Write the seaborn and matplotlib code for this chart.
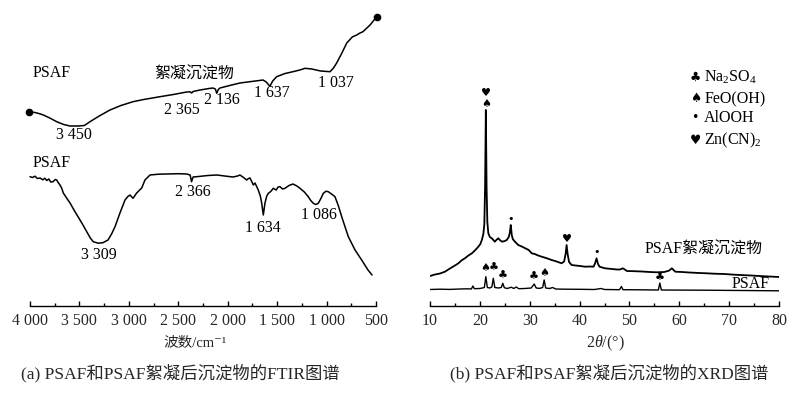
import numpy as np
import pandas as pd
import matplotlib
matplotlib.use('Agg')
import matplotlib.pyplot as plt
import seaborn as sns

# ---------------- FTIR: PSAF絮凝沉淀物 (upper curve) ----------------
ftir_floc_wn = [4010, 3950, 3900, 3865, 3800, 3730, 3660, 3595, 3514, 3450,
                3393, 3300, 3191, 3080, 2958, 2850, 2685, 2550, 2415, 2380,
                2365, 2350, 2280, 2190, 2149, 2125, 2111, 2095, 2078, 1980,
                1876, 1760, 1680, 1643, 1610, 1585, 1572, 1545, 1505, 1420,
                1340, 1270, 1218, 1150, 1060, 965, 930, 898, 850, 796,
                740, 695, 662, 632, 560, 493]
ftir_floc_t = [194.3, 193.5, 192.2, 191, 188, 184.3, 181.5, 180, 180, 180.5,
               184.3, 190, 196, 200.5, 204.3, 206.5, 209.3, 211.5, 214, 214.2,
               213, 214.5, 216, 217.5, 218, 217, 212.7, 216.5, 218, 220.5,
               223, 224.5, 225.5, 226, 224, 221, 220, 225, 229.3, 232.5,
               234.3, 236, 237.7, 237, 235, 234.3, 238, 243, 252, 263,
               269, 271, 273, 274.3, 281, 289.3]

# ---------------- FTIR: PSAF (lower curve) ----------------
ftir_psaf_wn = [4000, 3975, 3950, 3925, 3899, 3870, 3850, 3831, 3810, 3790,
                3767, 3745, 3730, 3715, 3697, 3680, 3663, 3630, 3595, 3555,
                3514, 3470, 3426, 3390, 3360, 3310, 3262, 3211, 3175, 3140,
                3090, 3039, 3010, 2988, 2958, 2921, 2870, 2837, 2786, 2700,
                2617, 2500, 2415, 2380, 2366, 2350, 2314, 2200, 2111, 2030,
                1947, 1900, 1876, 1840, 1808, 1790, 1775, 1755, 1741, 1724,
                1705, 1691, 1670, 1656, 1640, 1623, 1605, 1589, 1565, 1539,
                1510, 1490, 1471, 1445, 1421, 1380, 1340, 1300, 1269, 1225,
                1185, 1160, 1134, 1110, 1084, 1060, 1033, 1005, 983, 950,
                915, 880, 847, 780, 712, 645, 581, 540]
ftir_psaf_t = [129.3, 128.5, 129.8, 127.5, 128, 126.2, 127.8, 125.5, 127, 124,
               124.3, 126.5, 126, 123.5, 121, 118, 113, 108, 103, 96,
               89.3, 82, 74.3, 68, 64.3, 62.8, 63.3, 66, 72, 79.3,
               93, 106, 109.5, 111, 107.7, 113, 118, 126, 131, 131.8,
               132, 132.3, 132, 131, 124.3, 129, 129.3, 130.5, 131, 130,
               129, 130, 131, 128.5, 126, 127.5, 128, 124, 121, 123,
               119, 116, 110, 102.7, 91, 103, 110, 112.7, 114.5, 117.7,
               116, 119, 119.3, 117, 117.7, 120.5, 122, 120, 117.7, 114,
               109.3, 105.5, 102.7, 101.5, 102.7, 107, 112.7, 114.8, 114.3, 112,
               109.3, 100, 89.3, 69.3, 56, 46, 36, 31]

# ---------------- XRD: PSAF絮凝沉淀物 ----------------
xrd_floc_2t = [10.0, 11.0, 12.0, 13.0, 14.0, 15.0, 15.7, 16.3, 17.0, 17.7,
               18.4, 19.0, 19.7, 20.1, 20.4, 20.7, 20.9, 21.05, 21.2, 21.35,
               21.5, 21.7, 22.0, 22.4, 23.0, 23.4, 23.7, 24.1, 24.5, 25.0,
               25.4, 25.8, 26.0, 26.2, 26.4, 26.6, 27.0, 27.7, 28.4, 29.1,
               29.8, 30.4, 31.0, 31.7, 32.4, 33.4, 34.4, 35.4, 36.4, 36.9,
               37.2, 37.4, 37.6, 37.9, 38.4, 39.2, 40.1, 41.1, 42.0, 42.8,
               43.1, 43.4, 43.7, 44.0, 45.1, 46.5, 47.5, 48.1, 48.7, 49.5,
               51.0, 52.5, 54.0, 55.5, 57.0, 58.0, 58.5, 59.2, 60.5, 62.0,
               64.0, 65.5, 67.0, 69.0, 71.0, 72.2, 74.0, 76.0, 78.0, 80.0]
xrd_floc_i = [30, 31.5, 32.5, 34.3, 37.5, 40.5, 42.7, 45.5, 47.7, 50.5,
              52.7, 55.5, 59.3, 62, 66, 72, 82, 120, 196, 118,
              84, 72.7, 69, 67.7, 64.3, 66.5, 67.7, 65.5, 64.3, 65,
              66, 69, 73, 81, 71, 67, 64.5, 61, 59.5, 57.7,
              56, 52.7, 52, 50.5, 49.3, 47.8, 46, 44.5, 42.7, 44.5,
              52, 61, 52, 44, 41, 40.5, 40, 39.3, 39.5, 39.3,
              42.5, 47.7, 42, 39.3, 37.7, 37, 36.5, 36.5, 37.7, 35,
              34.8, 34.5, 34, 33.7, 34, 35.5, 37.7, 34.3, 34, 33.5,
              33, 32.7, 32.3, 32, 31.3, 31, 30.6, 30, 29.5, 29]

# ---------------- XRD: PSAF ----------------
xrd_psaf_2t = [10, 12, 14, 16, 17.5, 18.3, 18.6, 18.9, 20.0, 20.5,
               20.9, 21.2, 21.5, 22.0, 22.4, 22.7, 23.0, 23.7, 24.3, 24.6,
               24.9, 25.5, 26.3, 26.8, 27.3, 27.8, 29.0, 30.3, 30.9, 31.3,
               32.0, 32.6, 32.9, 33.2, 34.0, 34.6, 35.2, 37.0, 40, 43.0,
               44.3, 45, 48.0, 48.4, 48.7, 52, 55.8, 56.1, 56.4, 60,
               65, 70, 75, 80]
xrd_psaf_i = [16.5, 16.8, 16.6, 17, 17.2, 17, 20, 17.3, 17.5, 18,
              18.5, 29.3, 18.5, 18, 19, 27.7, 18.5, 18, 18.5, 22.7,
              18.3, 17.5, 18.8, 17.5, 19, 17.3, 17.5, 18, 22, 18,
              17.6, 18.5, 26, 18, 17.5, 18.5, 17, 16.8, 16.7, 16.5,
              17.5, 16.5, 16.3, 19.5, 16.3, 16.2, 16.0, 23, 16, 15.9,
              15.8, 15.6, 15.4, 15.2]

ftir_ticks = [4000, 3500, 3000, 2500, 2000, 1500, 1000, 500]
ftir_ticklabels = ['4 000', '3 500', '3 000', '2 500', '2 000', '1 500', '1 000', '500']
xrd_ticks = [10, 20, 30, 40, 50, 60, 70, 80]

legend_syms = ['\u2663', '\u2660', '\u2022', '\u2665']
legend_names = [r'Na$_2$SO$_4$', 'FeO(OH)', 'AlOOH', r'Zn(CN)$_2$']

sns.set_theme(style='white')
plt.rcParams['font.family'] = ['Liberation Serif', 'Noto Sans CJK SC', 'DejaVu Serif']
plt.rcParams['mathtext.fontset'] = 'custom'
plt.rcParams['mathtext.rm'] = 'Liberation Serif'
plt.rcParams['mathtext.it'] = 'Liberation Serif:italic'
FS = 11.5
SYM = ['DejaVu Sans']

W, H = 801, 394
fig = plt.figure(figsize=(W / 100, H / 100), dpi=100)
ax1 = fig.add_axes([30 / W, 1 - 306 / H, 346 / W, 296 / H])
ax2 = fig.add_axes([430 / W, 1 - 306 / H, 349 / W, 296 / H])

def style_axis(ax):
    for s in ['top', 'left', 'right']:
        ax.spines[s].set_visible(False)
    ax.spines['bottom'].set_color('black')
    ax.spines['bottom'].set_linewidth(1.0)
    ax.set_yticks([])
    ax.set_ylabel('')
    ax.set_xlabel('')
    ax.tick_params(axis='x', which='major', direction='in', length=3.5, width=1,
                   color='black', labelsize=FS, pad=5, bottom=True)
    ax.tick_params(axis='x', which='minor', direction='in', length=2.5, width=1,
                   color='black', bottom=True)
    ax.patch.set_alpha(0)

# ---- FTIR panel ----
df_floc = pd.DataFrame({'wn': ftir_floc_wn, 't': ftir_floc_t})
df_psaf = pd.DataFrame({'wn': ftir_psaf_wn, 't': ftir_psaf_t})
sns.lineplot(data=df_floc, x='wn', y='t', ax=ax1, color='black', lw=1.1,
             estimator=None, sort=False, clip_on=False)
sns.lineplot(data=df_psaf, x='wn', y='t', ax=ax1, color='black', lw=1.1,
             estimator=None, sort=False, clip_on=False)
ax1.plot([ftir_floc_wn[0], ftir_floc_wn[-1]], [ftir_floc_t[0], ftir_floc_t[-1]],
         'o', color='black', ms=4.5, clip_on=False)
ax1.set_xlim(4000, 500)
ax1.set_ylim(0, 296)
ax1.set_xticks(ftir_ticks)
ax1.set_xticklabels(ftir_ticklabels)
ax1.set_xticks(np.arange(3750, 500, -500), minor=True)
style_axis(ax1)

t_kw = dict(fontsize=FS, color='black')
ax1.text(3970, 233, 'PSAF', ha='left', va='center', **t_kw)
ax1.text(2340, 231, '絮凝沉淀物', ha='center', va='center', **t_kw)
ax1.text(3560, 171, '3 450', ha='center', va='center', **t_kw)
ax1.text(2463, 196, '2 365', ha='center', va='center', **t_kw)
ax1.text(2058, 206, '2 136', ha='center', va='center', **t_kw)
ax1.text(1552, 213, '1 637', ha='center', va='center', **t_kw)
ax1.text(905, 223, '1 037', ha='center', va='center', **t_kw)
ax1.text(3970, 143, 'PSAF', ha='left', va='center', **t_kw)
ax1.text(2350, 114, '2 366', ha='center', va='center', **t_kw)
ax1.text(3302, 51, '3 309', ha='center', va='center', **t_kw)
ax1.text(1648, 78, '1 634', ha='center', va='center', **t_kw)
ax1.text(1082, 91, '1 086', ha='center', va='center', **t_kw)

# ---- XRD panel ----
dx_floc = pd.DataFrame({'tt': xrd_floc_2t, 'i': xrd_floc_i})
dx_psaf = pd.DataFrame({'tt': xrd_psaf_2t, 'i': xrd_psaf_i})
sns.lineplot(data=dx_floc, x='tt', y='i', ax=ax2, color='black', lw=1.3,
             estimator=None, sort=False)
sns.lineplot(data=dx_psaf, x='tt', y='i', ax=ax2, color='black', lw=1.0,
             estimator=None, sort=False)
ax2.set_xlim(10, 80)
ax2.set_ylim(0, 296)
ax2.set_xticks(xrd_ticks)
ax2.set_xticks(np.arange(15, 80, 10), minor=True)
style_axis(ax2)

s_kw = dict(fontsize=8, family=SYM, ha='center', va='center', color='black')
ax2.text(21.3, 213, legend_syms[3], **s_kw)
ax2.text(21.3, 202, legend_syms[1], **s_kw)
ax2.text(26.2, 87, legend_syms[2], **s_kw)
ax2.text(37.4, 67, legend_syms[3], **s_kw)
ax2.text(43.4, 54, legend_syms[2], **s_kw)
ax2.text(21.1, 38, legend_syms[1], **s_kw)
ax2.text(22.8, 38, legend_syms[0], **s_kw)
ax2.text(24.6, 30, legend_syms[0], **s_kw)
ax2.text(30.9, 29, legend_syms[0], **s_kw)
ax2.text(32.9, 33, legend_syms[1], **s_kw)
ax2.text(56.1, 28, legend_syms[0], **s_kw)

ax2.text(53.1, 56, 'PSAF絮凝沉淀物', ha='left', va='center', **t_kw)
ax2.text(78.2, 18, 'PSAF', ha='right', va='baseline', **t_kw)

leg_kw = dict(s_kw, fontsize=9)
leg_y = [229, 207, 188, 166]
for sym, name, yy in zip(legend_syms, legend_names, leg_y):
    ax2.text(63.2, yy, sym, **leg_kw)
    ax2.text(65.0, yy, name, ha='left', va='center', **t_kw)

# ---- axis titles and captions ----
fig.text(195 / W, 1 - 343 / H, '波数/cm\u207b\u00b9', ha='center', va='center', fontsize=10.5)
fig.text(605 / W, 1 - 343 / H, r'2$\theta$/(°)', ha='center', va='center', fontsize=FS)
fig.text(180 / W, 1 - 373 / H, '(a) PSAF和PSAF絮凝后沉淀物的FTIR图谱',
         ha='center', va='center', fontsize=12.5)
fig.text(609 / W, 1 - 373 / H, '(b) PSAF和PSAF絮凝后沉淀物的XRD图谱',
         ha='center', va='center', fontsize=12.5)

fig.savefig('out.png', dpi=100)
